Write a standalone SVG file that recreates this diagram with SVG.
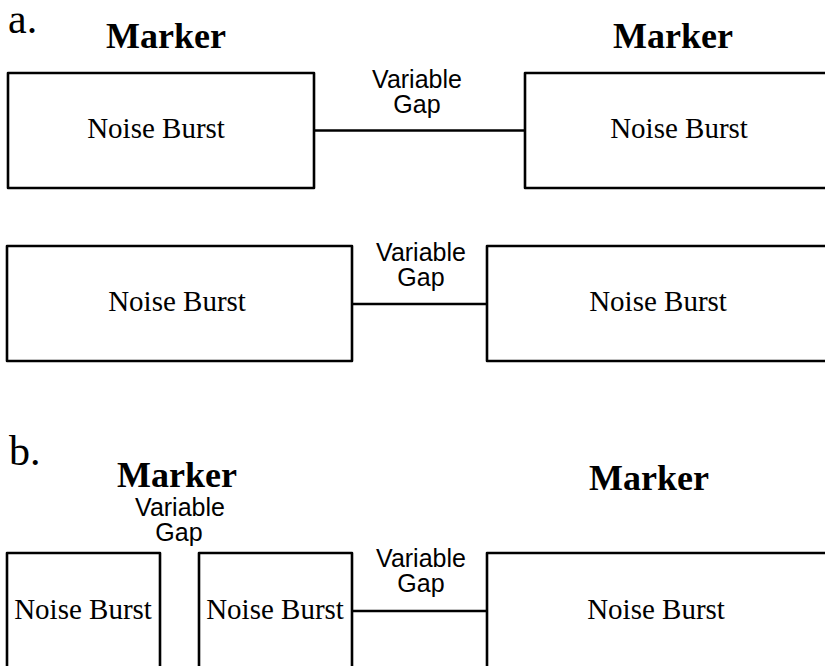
<svg xmlns="http://www.w3.org/2000/svg" width="825" height="666" viewBox="0 0 825 666">
  <style>
    .box { fill: none; stroke: #000; stroke-width: 2.6; stroke-linejoin: round; }
    .gap { fill: none; stroke: #000; stroke-width: 2.6; }
    .label { font-family: "Liberation Serif", "Times New Roman", serif; font-size: 29px; fill: #000; text-anchor: middle; }
    .marker { font-family: "Liberation Serif", "Times New Roman", serif; font-size: 36px; font-weight: bold; fill: #000; text-anchor: middle; }
    .gaptext { font-family: "Liberation Sans", Arial, sans-serif; font-size: 25px; fill: #000; text-anchor: middle; }
    .panel { font-family: "Liberation Serif", "Times New Roman", serif; font-size: 42px; fill: #000; }
  </style>
  <rect width="825" height="666" fill="#fff"/>

  <!-- panel letters and marker headings -->
  <text class="panel" x="8" y="33">a.</text>
  <text class="marker" x="166" y="48">Marker</text>
  <text class="marker" x="673" y="48">Marker</text>
  <text class="panel" x="9" y="465">b.</text>
  <text class="marker" x="177" y="487">Marker</text>
  <text class="marker" x="649" y="490">Marker</text>

  <!-- gap connectors -->
  <g id="connectors">
    <line class="gap" x1="314" y1="130.5" x2="525" y2="130.5"/>
    <line class="gap" x1="352" y1="304" x2="487" y2="304"/>
    <line class="gap" x1="352" y1="611" x2="487" y2="611"/>
  </g>

  <!-- gap labels -->
  <g id="gap-labels">
    <text class="gaptext" x="417" y="88">Variable</text>
    <text class="gaptext" x="417" y="113">Gap</text>
    <text class="gaptext" x="421" y="261">Variable</text>
    <text class="gaptext" x="421" y="286">Gap</text>
    <text class="gaptext" x="421" y="567">Variable</text>
    <text class="gaptext" x="421" y="592">Gap</text>
    <text class="gaptext" x="180" y="516">Variable</text>
    <text class="gaptext" x="179" y="541">Gap</text>
  </g>

  <!-- row a, top pair -->
  <g id="a1-burst1">
    <rect class="box" x="8" y="73" width="306" height="115"/>
    <text class="label" x="156" y="138">Noise Burst</text>
  </g>
  <g id="a1-burst2">
    <rect class="box" x="525" y="73" width="320" height="115"/>
    <text class="label" x="679" y="138">Noise Burst</text>
  </g>

  <!-- row a, second pair -->
  <g id="a2-burst1">
    <rect class="box" x="7" y="246" width="345" height="115"/>
    <text class="label" x="177" y="311">Noise Burst</text>
  </g>
  <g id="a2-burst2">
    <rect class="box" x="487" y="246" width="358" height="115"/>
    <text class="label" x="658" y="311">Noise Burst</text>
  </g>

  <!-- row b -->
  <g id="b-burst1">
    <rect class="box" x="7" y="553" width="153" height="130"/>
    <text class="label" x="83" y="619">Noise Burst</text>
  </g>
  <g id="b-burst2">
    <rect class="box" x="199" y="553" width="153" height="130"/>
    <text class="label" x="275" y="619">Noise Burst</text>
  </g>
  <g id="b-burst3">
    <rect class="box" x="487" y="553" width="358" height="130"/>
    <text class="label" x="656" y="619">Noise Burst</text>
  </g>
</svg>
